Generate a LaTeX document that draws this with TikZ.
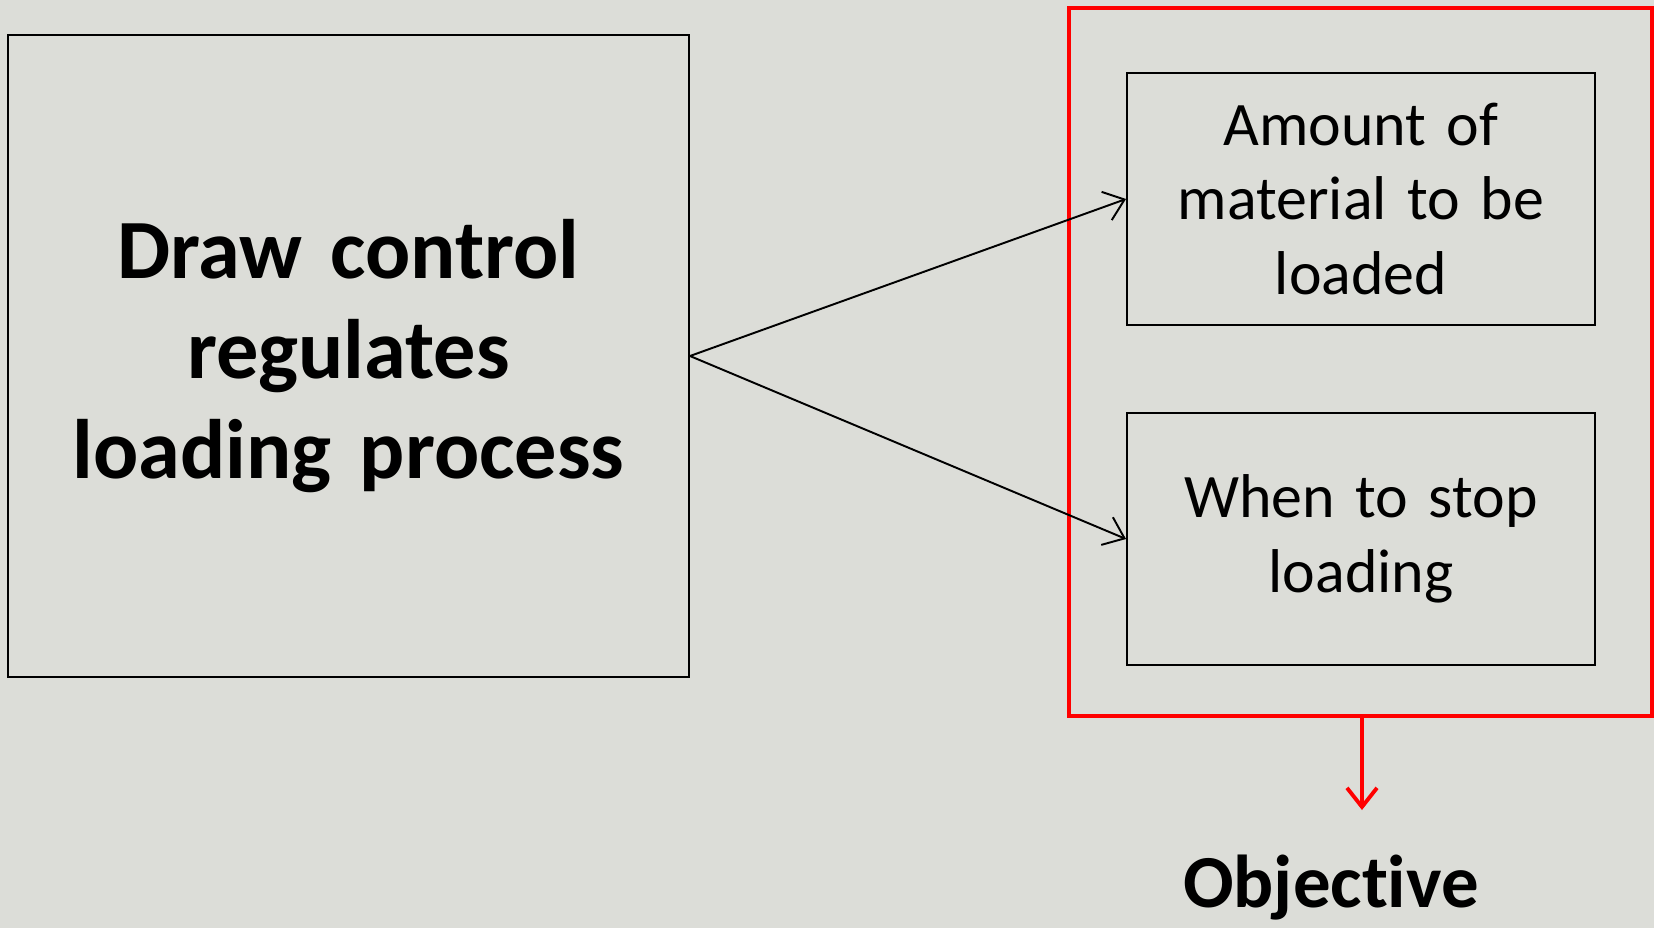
\documentclass[tikz,border=0pt]{standalone}
\usepackage{fontspec}
\setmainfont{Carlito}[Ligatures={NoCommon}, WordSpace=0.9]
\usepackage{tikz}
\usetikzlibrary{positioning, arrows.meta, calc}
\definecolor{slidebg}{RGB}{220,221,216}
\definecolor{objred}{RGB}{255,0,0}
\tikzset{
  mainbox/.style={rectangle, draw=black, line width=0.55pt, minimum width=68.1mm, minimum height=64.2mm, align=center, text width=64mm, font=\fontsize{24}{28.5}\selectfont\bfseries},
  subbox/.style={rectangle, draw=black, line width=0.55pt, minimum width=46.8mm, minimum height=25.2mm, align=center, text width=42mm, font=\fontsize{17.6}{21.2}\selectfont},
  redframe/.style={rectangle, draw=objred, line width=0.9pt, minimum width=58.3mm, minimum height=70.8mm},
  arrow/.style={line width=0.55pt, -{Straight Barb[length=1.9mm, width=3mm]}},
  redarrow/.style={line width=1.1pt, draw=objred, -{Straight Barb[length=1.9mm, width=3mm]}}
}

\begin{document}
\begin{tikzpicture}[x=0.1mm, y=-0.1mm]

        % Fondo
        \fill[slidebg] (0,0) rectangle (1654,928);
        \useasboundingbox (0,0) rectangle (1654,928);

        % Caja izquierda
        \node (draw) [mainbox] at (348.5,356) {Draw control\\regulates\\loading process};

        % Marco rojo y cajas derechas
        \node (frame) [redframe] at (1360.5,362) {};
        \node (amount) [subbox] at (1361,199) {Amount of\\material to be\\loaded};
        \node (stop) [subbox] at (1361,539) {When to stop\\loading};

        \draw [arrow] (draw.east) -- (amount.west);
        \draw [arrow] (draw.east) -- (stop.west);

        % Objetivo
        \coordinate (tip) at (1362,810);
        \node (obj) at (1331,888) {\fontsize{21.3}{25}\selectfont\bfseries Objective};
        \draw [redarrow] (frame.south -| tip) -- (tip);

\end{tikzpicture}
\end{document}
